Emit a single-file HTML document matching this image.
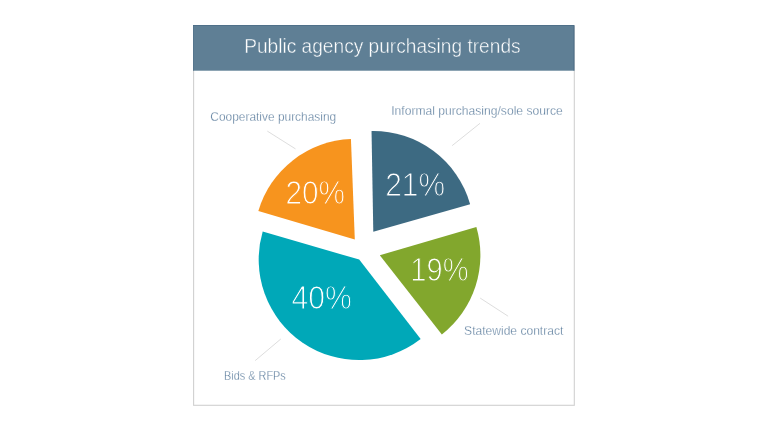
<!DOCTYPE html>
<html><head><meta charset="utf-8"><title>Public agency purchasing trends</title>
<style>
html,body{margin:0;padding:0;background:#fff;width:768px;height:432px;overflow:hidden}
svg{display:block}
text{font-family:"Liberation Sans",sans-serif;}
</style></head><body>
<svg width="768" height="432" viewBox="0 0 768 432">
<rect x="0" y="0" width="768" height="432" fill="#ffffff"/>
<rect x="193.6" y="26" width="380.7" height="379.3" fill="#ffffff" stroke="#d0d0d0" stroke-width="1.1"/>
<rect x="193" y="25" width="381.4" height="45.7" fill="#5f7f95"/>
<path d="M193 25.5H573.9V70.7" fill="none" stroke="#486a84" stroke-opacity="0.7" stroke-width="1"/>
<path d="M193.5 25V70.7" fill="none" stroke="#486a84" stroke-opacity="0.4" stroke-width="1"/>
<path d="M373.30 231.75L371.54 131.07A100.7 100.7 0 0 1 470.15 204.16Z" fill="#3d6a82"/>
<path d="M379.80 255.25L476.36 227.01A100.6 100.6 0 0 1 441.87 334.42Z" fill="#82a72d"/>
<path d="M359.20 259.60L420.66 339.12A100.5 100.5 0 0 1 262.69 231.56Z" fill="#00a8b8"/>
<path d="M354.80 239.60L258.34 211.03A100.6 100.6 0 0 1 350.94 139.07Z" fill="#f7941e"/>
<line x1="267.3" y1="131.1" x2="295.5" y2="148.9" stroke="#cfcfcf" stroke-width="0.7"/>
<line x1="452.2" y1="145.6" x2="480" y2="123.3" stroke="#cfcfcf" stroke-width="0.7"/>
<line x1="480.2" y1="298.1" x2="508.1" y2="316.2" stroke="#cfcfcf" stroke-width="0.7"/>
<line x1="255.2" y1="360.6" x2="280.8" y2="339" stroke="#cfcfcf" stroke-width="0.7"/>
<text x="244.2" y="52.6" font-size="20.6" textLength="276.4" lengthAdjust="spacingAndGlyphs" fill="#ffffff" stroke="#5f7f95" stroke-width="0.45">Public agency purchasing trends</text>
<text x="210.3" y="121.1" font-size="12.9" textLength="125.9" lengthAdjust="spacingAndGlyphs" fill="#57799a" stroke="#ffffff" stroke-width="0.28">Cooperative purchasing</text>
<text x="391.2" y="114.9" font-size="12.9" textLength="171.6" lengthAdjust="spacingAndGlyphs" fill="#57799a" stroke="#ffffff" stroke-width="0.28">Informal purchasing/sole source</text>
<text x="464.1" y="334.85" font-size="12.9" textLength="99.2" lengthAdjust="spacingAndGlyphs" fill="#57799a" stroke="#ffffff" stroke-width="0.28">Statewide contract</text>
<text x="224.0" y="379.7" font-size="12.9" textLength="61.8" lengthAdjust="spacingAndGlyphs" fill="#57799a" stroke="#ffffff" stroke-width="0.28">Bids &amp; RFPs</text>
<text x="285.4" y="204.3" font-size="32.3" textLength="59.6" lengthAdjust="spacingAndGlyphs" fill="#ffffff" stroke="#f7941e" stroke-width="1.0">20%</text>
<text x="385.2" y="195.9" font-size="32.3" textLength="59.8" lengthAdjust="spacingAndGlyphs" fill="#ffffff" stroke="#3d6a82" stroke-width="1.0">21%</text>
<text x="410.3" y="280.8" font-size="32.3" textLength="58.2" lengthAdjust="spacingAndGlyphs" fill="#ffffff" stroke="#82a72d" stroke-width="1.0">19%</text>
<text x="291.4" y="309.4" font-size="32.3" textLength="60.3" lengthAdjust="spacingAndGlyphs" fill="#ffffff" stroke="#00a8b8" stroke-width="1.0">40%</text>
</svg>
</body></html>
